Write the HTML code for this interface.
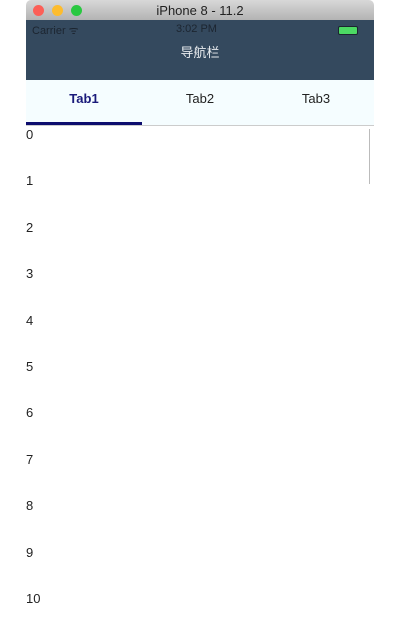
<!DOCTYPE html>
<html><head><meta charset="utf-8"><style>
body{margin:0;width:400px;height:640px;background:#fff;position:relative;overflow:hidden;font-family:"Liberation Sans","Noto Sans CJK SC",sans-serif}
.abs{position:absolute}
#win{left:26px;top:0;width:348px;height:640px;background:#fff;border-radius:5px 5px 0 0;overflow:hidden}
#title{left:0;top:0;width:348px;height:20px;background:linear-gradient(#d8d8d8,#b3b3b3);font-size:13px;text-align:center;line-height:21px;color:#222}
.dot{top:5px;width:11px;height:11px;border-radius:50%}
#nav{left:0;top:20px;width:348px;height:60px;background:#34495e;color:#e8ecef}
#tabs{left:0;top:80px;width:348px;height:45px;background:#f5fdff;border-bottom:1px solid #ccc}
.tab{top:0;width:116px;height:42px;line-height:38px;text-align:center;font-size:13px;color:#222}
.row{left:0;font-size:13px;color:#222}
</style></head><body>
<div id="win" class="abs">
<div id="title" class="abs">iPhone 8 - 11.2
<div class="abs dot" style="left:7px;background:#fc5f57"></div>
<div class="abs dot" style="left:26px;background:#fdbc2e"></div>
<div class="abs dot" style="left:45px;background:#29c840"></div>
</div>
<div id="nav" class="abs">
<div class="abs" style="left:6px;top:3px;font-size:11px;color:#1c2530">Carrier ᯤ</div>
<div class="abs" style="left:150px;top:3px;font-size:11px;color:#1c2530">3:02 PM</div>
<div class="abs" style="left:312px;top:6px;width:18px;height:7px;background:#4cd964;border:1px solid #1c2530;border-radius:2px"></div>
<div class="abs" style="left:0;top:22px;width:348px;text-align:center;font-size:13px">导航栏</div>
</div>
<div id="tabs" class="abs">
<div class="abs tab" style="left:0;color:#1a1a7a;font-weight:bold">Tab1</div>
<div class="abs tab" style="left:116px">Tab2</div>
<div class="abs tab" style="left:232px">Tab3</div>
<div class="abs" style="left:0;top:42px;width:116px;height:3px;background:#0d0d6e"></div>
</div>
<div class="abs" style="left:343px;top:129px;width:1px;height:55px;background:#bbb"></div>
<div id="list"></div>
</div>
<script>
const rows=[0,1,2,3,4,5,6,7,8,9,10];
const list=document.getElementById('list');
rows.forEach((r,i)=>{const d=document.createElement('div');d.className='abs row';d.style.top=(127+46.4*i)+'px';d.textContent=r;


list.appendChild(d);});
</script>
</body></html>
